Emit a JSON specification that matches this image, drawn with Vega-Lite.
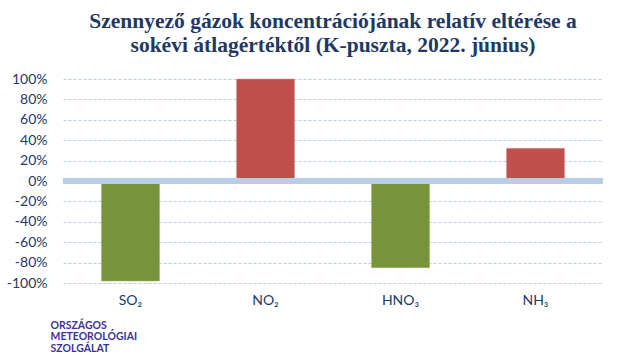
{
  "$schema": "https://vega.github.io/schema/vega-lite/v6.json",
  "width": 540,
  "height": 204,
  "autosize": {"type": "none"},
  "padding": {"left": 63, "top": 79, "right": 37, "bottom": 77},
  "background": "white",
  "config": {"view": {"stroke": null}},
  "title": {
    "text": ["Szennyező gázok koncentrációjának relatív eltérése a", "sokévi átlagértéktől (K-puszta, 2022. június)"],
    "font": "Liberation Serif",
    "fontSize": 21.5,
    "fontWeight": "bold",
    "color": "#1F3864",
    "anchor": "middle",
    "dx": 0,
    "offset": 16,
    "lineHeight": 24
  },
  "data": {
    "values": [
      {"gaz": "SO₂", "elteres": -0.98},
      {"gaz": "NO₂", "elteres": 1.0},
      {"gaz": "HNO₃", "elteres": -0.85},
      {"gaz": "NH₃", "elteres": 0.32}
    ]
  },
  "layer": [
    {
      "mark": {"type": "bar", "strokeWidth": 1, "strokeOpacity": 0.5},
      "encoding": {
        "x": {
          "field": "gaz",
          "type": "nominal",
          "sort": null,
          "scale": {"paddingInner": 0.57, "paddingOuter": 0.285},
          "axis": {
            "labelAngle": 0,
            "labelFont": "Lato",
            "labelFontSize": 14,
            "labelColor": "#1F3864",
            "labelPadding": 10,
            "ticks": false,
            "domain": false,
            "grid": false,
            "title": ["ORSZÁGOS", "METEOROLÓGIAI", "SZOLGÁLAT"],
            "titleFont": "Lato",
            "titleFontSize": 10.5,
            "titleFontWeight": "bold",
            "titleColor": "#3D3290",
            "titleAnchor": "start",
            "titleAlign": "left",
            "titleBaseline": "top",
            "titleX": -13,
            "titleY": 37,
            "titleLineHeight": 11.5
          }
        },
        "y": {
          "field": "elteres",
          "type": "quantitative",
          "scale": {"domain": [-1, 1], "nice": false},
          "axis": {
            "values": [-1, -0.8, -0.6, -0.4, -0.2, 0, 0.2, 0.4, 0.6, 0.8, 1],
            "tickCount": 11,
            "labelExpr": "round(datum.value * 100) + '%'",
            "labelOverlap": false,
            "labelFont": "Lato",
            "labelFontSize": 14,
            "labelColor": "#1F3864",
            "labelPadding": 16,
            "ticks": false,
            "domain": false,
            "grid": true,
            "gridColor": "#B9CDE5",
            "gridDash": [3, 2],
            "gridWidth": 1,
            "title": null
          }
        },
        "color": {
          "condition": {"test": "datum.elteres < 0", "value": "#77933C"},
          "value": "#C0504D"
        },
        "stroke": {
          "condition": {"test": "datum.elteres < 0", "value": "#9BBB59"},
          "value": "#D99694"
        }
      }
    },
    {
      "mark": {"type": "rule", "color": "#B9CDE5", "strokeWidth": 5.5},
      "encoding": {"y": {"datum": 0}}
    }
  ]
}
